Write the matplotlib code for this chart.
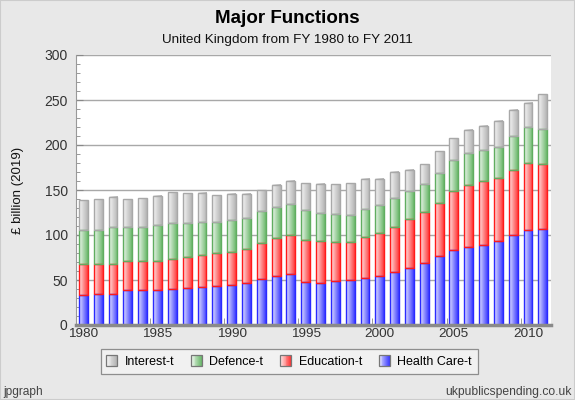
import numpy as np
import matplotlib
matplotlib.use("Agg")
import matplotlib.pyplot as plt
from matplotlib.colors import LinearSegmentedColormap
from matplotlib.patches import Rectangle
from matplotlib.legend_handler import HandlerBase

years = list(range(1980, 2012))
health = [33, 34, 34, 38.5, 38.5, 38.5, 39.6, 40.7, 41.9, 43, 44, 46.3, 50.7, 54, 56.3, 47.4,
          47.2, 48.5, 49.6, 51.9, 54, 58.5, 63, 68.5, 76.3, 83, 86.3, 88.5, 93, 99.6, 105.2, 106.3]
education = [35, 34, 34, 33, 33, 33, 33.4, 34.5, 35.5, 36.6, 36.7, 37.7, 40, 42.3, 43.3, 46.6,
             45.6, 44.1, 43, 45.5, 47.9, 50, 54.4, 56.7, 59.6, 66.3, 69.6, 71.1, 70, 72.3, 75.2, 72.2]
defence = [38, 38, 40.5, 37, 37.5, 39.2, 40, 37.8, 36.6, 34.4, 35.6, 34.5, 35.6, 34.4, 34.4, 33.4,
           31.2, 30.4, 29.3, 31.1, 31.1, 32.2, 31.1, 31.1, 33.4, 33.7, 34.8, 34.4, 34.4, 37.7, 39.2, 39.5]
interest = [32.5, 33.6, 33.4, 31.1, 31.7, 32.3, 34.4, 33.3, 32.3, 30, 28.9, 26.7, 23.3, 24.5, 25.6, 30,
            32.3, 33.3, 35.5, 33.4, 28.9, 28.9, 23.4, 22.2, 23.7, 24.4, 25.6, 26.7, 28.9, 28.9, 26.7, 38.3]
series_names = ["Health Care-t", "Education-t", "Defence-t", "Interest-t"]
xtick_years = [1980, 1985, 1990, 1995, 2000, 2005, 2010]

# styles: (left colour, right colour, edge colour)
styles = [("#e4e4ff", "#3c3cff", "#2a2aff"),
          ("#ffe4e4", "#ff3a3a", "#ff1a1a"),
          ("#eef7ee", "#6cb86c", "#60ad60"),
          ("#f6f6f6", "#b4b4b4", "#a8a8a8")]

plt.rcParams['font.family'] = ['Liberation Sans', 'DejaVu Sans']
BG = "#e8e8e8"
fig = plt.figure(figsize=(5.75, 4.0), dpi=100, facecolor=BG)
ax = fig.add_axes([76/575, 1-325/400, (551-76)/575, (325-55)/400])
ax.set_facecolor("white")

data = [health, education, defence, interest]
bottom = np.zeros(len(years))
grad = np.linspace(0, 1, 64).reshape(1, -1)
for vals, (c0, c1, ec) in zip(data, styles):
    cmap = LinearSegmentedColormap.from_list("g", [c0, c1])
    bars = ax.bar(years, vals, width=0.6, bottom=bottom, facecolor="none",
                  edgecolor=ec, linewidth=1.0, zorder=4)
    for b in bars:
        x0, y0, w, h = b.get_x(), b.get_y(), b.get_width(), b.get_height()
        ax.imshow(grad, extent=[x0, x0 + w, y0, y0 + h], aspect='auto', cmap=cmap,
                  interpolation='bilinear', zorder=3)
    bottom = bottom + np.array(vals)

ax.set_xlim(1979.5, 2011.55)
ax.set_ylim(0, 300)
ax.set_yticks(range(0, 301, 50))
ax.set_yticks(range(0, 301, 10), minor=True)
ax.yaxis.grid(True, which='major', color="#a8a8a8", linewidth=1.0, zorder=1)
ax.set_axisbelow(True)
ax.tick_params(axis='y', which='major', direction='in', length=5, color="#888888",
               labelsize=10, labelcolor="#333333", pad=6)
ax.tick_params(axis='y', which='minor', direction='in', length=3, color="#888888")
ax.set_xticks(xtick_years)
ax.set_xticks([y - 0.5 for y in xtick_years[1:]], minor=True)
ax.tick_params(axis='x', which='major', length=0, labelsize=9.7, labelcolor="#333333", pad=2)
ax.tick_params(axis='x', which='minor', direction='in', length=5, color="#888888")

for s in ["top", "right"]:
    ax.spines[s].set_visible(False)
ax.spines["bottom"].set_color("#8a8a8a")
ax.spines["bottom"].set_linewidth(2.5)
ax.spines["bottom"].set_zorder(6)
ax.spines["left"].set_color("#999999")
ax.spines["left"].set_linewidth(0.8)

fig.text(18/575, 1-190/400, "£ billion (2019)", rotation=90, ha='center', va='center',
         fontsize=9.5, color="#111111")
fig.text(0.5, 1-18.5/400, "Major Functions", ha='center', va='center', fontsize=13.5,
         fontweight='bold', color="black")
fig.text(0.5, 1-40.5/400, "United Kingdom from FY 1980 to FY 2011", ha='center', va='center',
         fontsize=9.7, color="#111111")
fig.text(3/575, 1-392/400, "jpgraph", ha='left', va='center', fontsize=8.6, color="#444444")
fig.text(572/575, 1-392/400, "ukpublicspending.co.uk", ha='right', va='center', fontsize=8.7,
         color="#444444")


class GradHandler(HandlerBase):
    def __init__(self, c0, c1):
        super().__init__()
        self.c0, self.c1 = c0, c1

    def create_artists(self, legend, orig_handle, xdescent, ydescent, width, height, fontsize, trans):
        cmap = LinearSegmentedColormap.from_list("g", [self.c0, self.c1])
        size = width
        x0 = -xdescent
        y0 = -ydescent + (height - size) / 2
        arts = []
        n = 12
        for i in range(n):
            arts.append(Rectangle((x0 + i * size / n, y0), size / n + 0.3, size,
                                  facecolor=cmap(i / (n - 1)), edgecolor='none', transform=trans))
        arts.append(Rectangle((x0, y0), size, size, facecolor='none', edgecolor="#777777",
                              linewidth=0.9, transform=trans))
        return arts


handles = []
hmap = {}
for name, (c0, c1, ec) in list(zip(series_names, styles))[::-1]:
    h = Rectangle((0, 0), 1, 1, label=name)
    handles.append(h)
    hmap[h] = GradHandler(c0, c1)

leg = fig.legend(handles=handles, handler_map=hmap, loc='center', ncol=4,
                 bbox_to_anchor=(289/575, 1-361.5/400), frameon=True, fancybox=False,
                 fontsize=9, handlelength=0.85, handleheight=1.0, handletextpad=0.62,
                 columnspacing=1.35, borderpad=0.45, borderaxespad=0, edgecolor="#777777")
leg.get_frame().set_facecolor("#f4f4f4")
leg.get_frame().set_linewidth(0.9)

fig.patches.append(Rectangle((0, 0), 1, 1, transform=fig.transFigure, facecolor='none',
                             edgecolor="#cccccc", linewidth=1.5))

fig.savefig("out.png", dpi=100, facecolor=BG)
